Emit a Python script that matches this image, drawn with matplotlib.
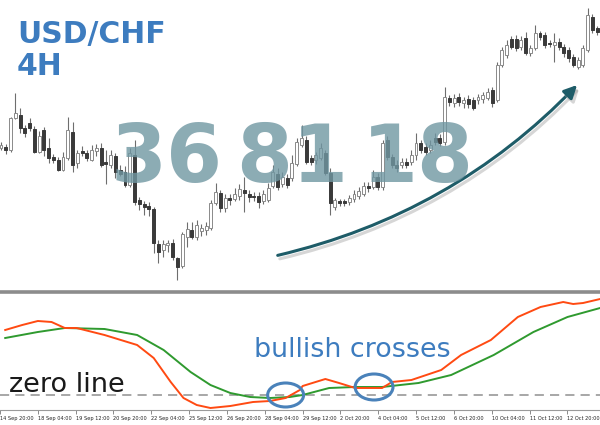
import numpy as np
import matplotlib
matplotlib.use('Agg')
import matplotlib.pyplot as plt
from matplotlib.patches import Ellipse, FancyArrowPatch
import matplotlib.patheffects as pe

# USD/CHF 4H candles, in pips above the chart's lowest visible level
opens = [142, 143, 140, 172, 175, 162, 167, 161, 138, 160, 142, 133, 130, 120, 132, 158, 127, 139, 137, 130,
         139, 142, 128, 125, 134, 120, 118, 105, 135, 90, 86, 84, 81, 46, 40, 45, 47, 32, 24, 53,
         60, 53, 59, 60, 62, 87, 97, 82, 92, 91, 94, 100, 96, 94, 94, 89, 90, 104, 116, 106,
         112, 112, 126, 145, 150, 132, 130, 132, 137, 117, 83, 89, 89, 88, 91, 94, 96, 104, 103, 113,
         103, 150, 133, 125, 125, 128, 128, 135, 147, 143, 140, 152, 152, 148, 192, 187, 193, 187, 191, 190,
         190, 191, 192, 200, 190, 225, 235, 251, 251, 243, 252, 237, 242, 257, 255, 247, 245, 248, 243, 240,
         233, 223, 225, 240, 273, 262]
highs = [148, 146, 173, 197, 182, 165, 172, 164, 159, 163, 152, 136, 133, 138, 173, 168, 140, 144, 140, 145,
         146, 147, 140, 140, 137, 125, 124, 142, 150, 93, 89, 88, 83, 50, 50, 50, 51, 33, 58, 68,
         68, 70, 66, 68, 90, 107, 100, 96, 96, 102, 106, 113, 100, 98, 98, 100, 107, 125, 122, 118,
         116, 135, 152, 165, 154, 135, 138, 147, 140, 122, 92, 91, 91, 95, 100, 103, 108, 108, 120, 117,
         150, 154, 136, 130, 132, 132, 140, 157, 150, 147, 150, 157, 156, 203, 195, 196, 197, 193, 195, 193,
         196, 198, 202, 203, 228, 243, 250, 254, 255, 254, 258, 245, 265, 259, 258, 250, 257, 252, 246, 243,
         236, 233, 245, 282, 276, 264]
lows = [140, 136, 138, 171, 157, 153, 159, 137, 137, 134, 127, 127, 119, 119, 130, 118, 122, 134, 129, 129,
        134, 123, 106, 122, 112, 114, 103, 103, 85, 80, 75, 74, 37, 27, 33, 38, 30, 10, 22, 43,
        51, 50, 54, 55, 60, 85, 78, 78, 85, 89, 90, 78, 88, 89, 82, 86, 88, 102, 100, 103,
        102, 109, 124, 143, 126, 125, 126, 130, 115, 75, 80, 84, 84, 85, 88, 91, 94, 98, 101, 100,
        100, 130, 122, 118, 122, 122, 125, 130, 137, 135, 137, 145, 144, 145, 184, 183, 184, 182, 182, 180,
        186, 187, 190, 183, 188, 223, 232, 241, 239, 240, 235, 234, 240, 250, 242, 243, 228, 240, 233, 228,
        223, 221, 223, 238, 257, 255]
closes = [145, 140, 172, 177, 162, 157, 162, 138, 154, 140, 132, 130, 120, 133, 160, 125, 137, 137, 132, 140,
          142, 125, 126, 135, 118, 116, 105, 137, 88, 86, 83, 81, 47, 38, 46, 47, 33, 23, 56, 61,
          53, 65, 62, 64, 87, 98, 82, 92, 90, 96, 101, 97, 93, 93, 88, 96, 102, 118, 103, 113,
          105, 127, 148, 152, 128, 128, 135, 142, 117, 87, 90, 87, 87, 92, 96, 99, 104, 102, 113, 103,
          147, 133, 125, 122, 128, 125, 135, 147, 140, 138, 145, 148, 147, 193, 188, 192, 188, 190, 186, 182,
          193, 195, 198, 187, 225, 240, 245, 243, 242, 250, 237, 242, 257, 253, 245, 246, 248, 243, 237, 232,
          225, 230, 242, 275, 260, 258]

# oscillator lines (bar index, value), zero line at 0
fast_idx = [-0.2, 3.4, 6.7, 9.6, 12.4, 14.9, 20.8, 27.7, 31.2, 34.8, 37.5, 40.3, 43.2, 47.4, 52.2, 55.8,
            59.1, 62.1, 62.7, 67.5, 70.4, 73.8, 79.5, 81.6, 85.7, 92.0, 96.2, 102.5, 108.2, 113.0, 117.8,
            119.9, 122.0, 125.6]
fast_val = [65, 70, 74, 73, 67, 67, 60, 50, 37, 13, -3, -10, -13, -11, -7, -6,
            -3, 5, 9, 16, 12, 7, 7, 13, 15, 25, 40, 55, 78, 88, 93,
            91, 92, 96]
slow_idx = [-0.2, 6.7, 12.4, 20.8, 27.7, 33.3, 39.0, 43.2, 47.4, 51.6, 55.8, 60.0, 62.7, 68.3, 73.8,
            79.5, 87.2, 94.1, 103.1, 111.5, 118.7, 125.6]
slow_val = [57, 63, 67, 66, 60, 45, 23, 10, 2, -2, -3, -2, 0, 7, 8,
            8, 12, 20, 40, 63, 78, 87]

tick_start = -1.3   # bar index of first date label, one label every 8 bars
tick_labels = ['14 Sep 20:00', '18 Sep 04:00', '19 Sep 12:00', '20 Sep 20:00', '22 Sep 04:00',
               '25 Sep 12:00', '26 Sep 20:00', '28 Sep 04:00', '29 Sep 12:00', '2 Oct 20:00',
               '4 Oct 04:00', '5 Oct 12:00', '6 Oct 20:00', '10 Oct 04:00', '11 Oct 12:00',
               '12 Oct 20:00']

W, H = 600, 425
fig = plt.figure(figsize=(6, 4.25), dpi=100)

def fx(px):
    return px / W

def fy(py):
    return 1 - py / H

x_lo, x_hi = -1 / 4.77, 599 / 4.77

# ---- price panel
ax = fig.add_axes([0, fy(291), 1, 291 / H])
ax.set_xlim(x_lo, x_hi)
ax.set_ylim(-1, 290)
ax.axis('off')

o = np.array(opens)
c = np.array(closes)
hi = np.array(highs)
lo = np.array(lows)
x = np.arange(len(o))
up = c >= o

ax.vlines(x, lo, hi, color='#6e6e6e', lw=0.8, zorder=1)
body_h = np.maximum(np.abs(c - o), 0.9)
ax.bar(x[up], body_h[up], bottom=np.minimum(o, c)[up], width=0.62,
       color='white', edgecolor='#8a8a8a', lw=0.7, zorder=2)
ax.bar(x[~up], body_h[~up], bottom=np.minimum(o, c)[~up], width=0.62,
       color='#3a3a3a', edgecolor='#3a3a3a', lw=0.7, zorder=2)

# ---- oscillator panel
ax2 = fig.add_axes([0, fy(410), 1, 118 / H])
ax2.set_xlim(x_lo, x_hi)
ax2.set_ylim(-15, 103)
for s in ['left', 'right']:
    ax2.spines[s].set_visible(False)
ax2.spines['top'].set_color('#8c8c8c')
ax2.spines['top'].set_linewidth(2.6)
ax2.spines['bottom'].set_color('#9a9a9a')
ax2.spines['bottom'].set_linewidth(0.8)
ax2.set_yticks([])

ax2.axhline(0, color='#8f8f8f', lw=1.1, ls=(0, (6, 4)), zorder=1)
ax2.plot(slow_idx, slow_val, color='#2f9a2f', lw=1.4, zorder=2)
ax2.plot(fast_idx, fast_val, color='#ff4a12', lw=1.4, zorder=3)

ticks = [tick_start + 8 * k for k in range(len(tick_labels))]
ax2.set_xticks(ticks)
ax2.set_xticklabels(tick_labels, fontsize=3.6, ha='left', color='#222222')
ax2.tick_params(axis='x', length=3, width=0.6, color='#777777', pad=1.5)

ax2.add_patch(Ellipse((59.1, 0), 7.6, 24, fill=False, edgecolor='#4a82ba', lw=2.2,
                      zorder=5, clip_on=False))
ax2.add_patch(Ellipse((77.8, 8), 8.0, 26, fill=False, edgecolor='#4a82ba', lw=2.2,
                      zorder=5, clip_on=False))

# ---- texts
blue = '#3d7cbf'
fig.text(fx(17), fy(43), 'USD/CHF', fontsize=21.5, fontweight='bold', color=blue, va='baseline')
fig.text(fx(17), fy(75), '4H', fontsize=21.5, fontweight='bold', color=blue, va='baseline')

for txt, left in [('36', 111), ('81', 236), ('18', 362)]:
    fig.text(fx(left), fy(182), txt, fontsize=58, fontweight='bold', color='#7097a2',
             alpha=0.8, va='baseline', zorder=10)

fig.text(fx(9), fy(392), 'zero line', fontsize=19.5, color='#1a1a1a', va='baseline')
fig.text(fx(254), fy(357), 'bullish crosses', fontsize=19.4, color=blue, va='baseline')

# ---- curved arrow
arrow = FancyArrowPatch((fx(275), fy(256)), (fx(579), fy(83)), transform=fig.transFigure,
                        connectionstyle='arc3,rad=0.15', arrowstyle='-|>', mutation_scale=19,
                        color='#1e5c68', lw=2.2,
                        path_effects=[pe.SimpleLineShadow(offset=(1.5, -2.5), shadow_color='#999999',
                                                          alpha=0.4), pe.Normal()])
fig.add_artist(arrow)

fig.savefig('out.png', dpi=100, facecolor='white')
